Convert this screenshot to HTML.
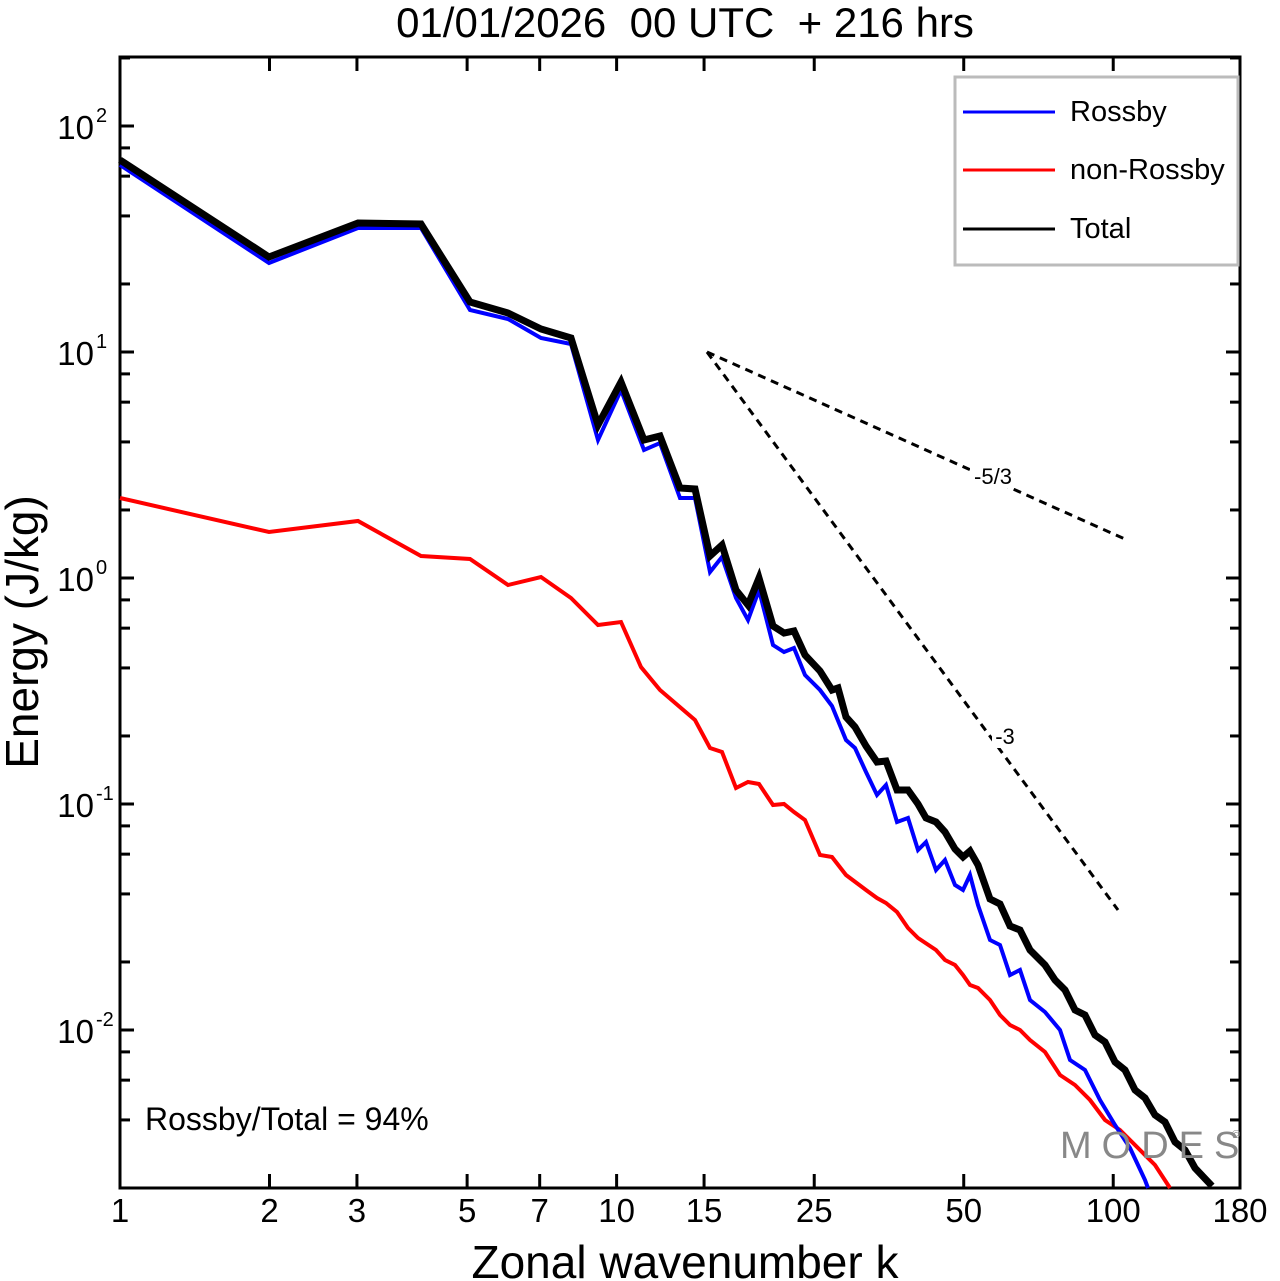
<!DOCTYPE html>
<html><head><meta charset="utf-8"><style>
html,body{margin:0;padding:0;background:#fff;}
svg{display:block;font-family:"Liberation Sans",sans-serif;}
</style></head><body>
<svg width="1280" height="1281" viewBox="0 0 1280 1281">
<text x="685" y="37" font-size="42" text-anchor="middle" style="white-space:pre" xml:space="preserve">01/01/2026  00 UTC  + 216 hrs</text>
<rect x="120" y="57" width="1120" height="1131" fill="none" stroke="#000" stroke-width="3"/>
<g id="ticks" stroke="#000" stroke-width="3"></g>
<g font-size="33" text-anchor="middle" id="xl"></g>
<g font-size="33" text-anchor="end" id="yl"></g>
<text x="685" y="1278" font-size="46" text-anchor="middle">Zonal wavenumber k</text>
<text transform="translate(38,632) rotate(-90)" font-size="46" text-anchor="middle">Energy (J/kg)</text>
<polyline fill="none" stroke="#f00" stroke-width="4" points="120,498 269,532 358,521 421,556 470,559 508,585 541,577 571,598 598,625 621,622 641,667 660,690 695,720 710,748 722,752 736,788 748,782 759,784 773,805 784,804 794,812 805,820 820,855 832,857 846,875 866,890 877,898 886,903 897,912 908,928 918,938 936,950 945,960 955,965 963,975 970,985 978,988 990,1000 1000,1015 1010,1025 1020,1030 1030,1040 1045,1052 1060,1075 1075,1085 1090,1100 1105,1120 1120,1130 1140,1150 1155,1165 1170,1188"/>
<polyline fill="none" stroke="#00f" stroke-width="4" points="120,165 269,263 358,228 421,228 470,310 508,319 541,338 571,344 598,440 621,390 644,450 660,443 680,498 695,498 710,572 722,557 736,598 748,620 759,590 773,645 784,652 794,648 805,675 820,690 832,706 846,740 855,748 866,772 877,795 886,785 897,822 908,818 918,850 926,842 936,870 945,860 955,885 963,890 970,875 978,905 990,940 1000,945 1010,975 1020,970 1030,1000 1045,1012 1060,1030 1070,1060 1085,1070 1100,1100 1115,1125 1130,1148 1145,1180 1148,1188"/>
<polyline fill="none" stroke="#000" stroke-width="7" points="120,160 269,257 358,223 421,224 470,302 508,313 541,329 571,338 598,425 621,382 644,440 660,436 680,488 695,489 710,556 722,545 736,590 748,605 759,578 773,626 784,633 794,631 805,655 820,671 832,690 838,688 846,717 855,727 866,746 877,762 886,761 897,790 908,790 918,804 926,818 936,822 945,832 955,849 963,857 970,851 978,865 990,899 1000,904 1010,926 1020,930 1030,950 1045,965 1055,980 1065,990 1075,1010 1085,1015 1095,1035 1105,1042 1115,1062 1125,1070 1135,1090 1145,1098 1155,1115 1165,1122 1175,1142 1185,1150 1195,1168 1212,1186"/>
<line x1="707" y1="352" x2="1127" y2="540" stroke="#000" stroke-width="3" stroke-dasharray="8,6"/>
<line x1="707" y1="352" x2="1118" y2="910" stroke="#000" stroke-width="3" stroke-dasharray="8,6"/>
<rect x="970" y="462" width="46" height="26" fill="#fff"/>
<rect x="992" y="722" width="26" height="26" fill="#fff"/>
<text x="993" y="484" font-size="22" text-anchor="middle">-5/3</text>
<text x="1005" y="744" font-size="22" text-anchor="middle">-3</text>
<text x="145" y="1130" font-size="32">Rossby/Total = 94%</text>
<text x="1060" y="1158" font-size="38" fill="#888" letter-spacing="10">MODES</text>
<text x="1232" y="1138" font-size="11" fill="#888">©</text>
<rect x="955" y="77" width="283" height="188" fill="#fff" stroke="#bbb" stroke-width="3"/>
<line x1="963" y1="112" x2="1055" y2="112" stroke="#00f" stroke-width="3"/>
<line x1="963" y1="170" x2="1055" y2="170" stroke="#f00" stroke-width="3"/>
<line x1="963" y1="229" x2="1055" y2="229" stroke="#000" stroke-width="3"/>
<g font-size="29"><text x="1070" y="121">Rossby</text><text x="1070" y="179">non-Rossby</text><text x="1070" y="238">Total</text></g>
<script>
var ns="http://www.w3.org/2000/svg",t=document.getElementById('ticks'),xl=document.getElementById('xl'),yl=document.getElementById('yl');
function L(a,b,c,d){var e=document.createElementNS(ns,'line');e.setAttribute('x1',a);e.setAttribute('y1',b);e.setAttribute('x2',c);e.setAttribute('y2',d);t.appendChild(e);}
function T(p,x,y,s){var e=document.createElementNS(ns,'text');e.setAttribute('x',x);e.setAttribute('y',y);e.textContent=s;p.appendChild(e);return e;}
var ppd=1120/Math.log10(180);
[1,2,3,5,7,10,15,25,50,100,180].forEach(function(v){var x=120+Math.log10(v)*ppd;L(x,1188,x,1174);L(x,57,x,71);T(xl,x,1222,v);});
for(var e=-3;e<=2;e++){for(var m=1;m<=9;m++){if(m>1&&m%2)continue;var y=578-226*(e+Math.log10(m));if(y<57||y>1188)continue;var len=m==1?14:10;L(120,y,120+len,y);L(1240,y,1240-len,y);if(m==1){T(yl,94,y+13,'10');var s=document.createElementNS(ns,'text');s.setAttribute('x',96);s.setAttribute('y',y-4);s.setAttribute('font-size','20');s.setAttribute('text-anchor','start');s.textContent=e;yl.appendChild(s);}}}
</script>
</svg>
</body></html>
